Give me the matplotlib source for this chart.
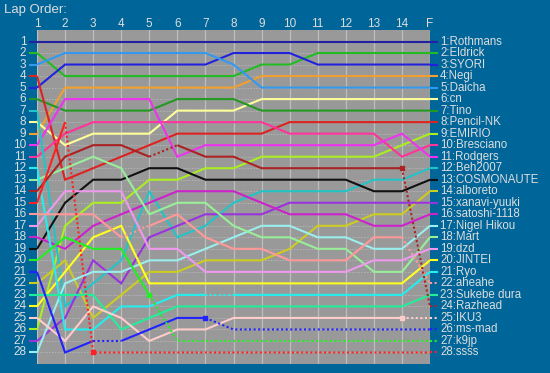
import matplotlib
matplotlib.use('Agg')
import matplotlib.pyplot as plt

lap_labels = ['1', '2', '3', '4', '5', '6', '7', '8', '9', '10', '11', '12', '13', '14', 'F']

drivers = ['Rothmans', 'Eldrick', 'SYORI', 'Negi', 'Daicha', 'cn', 'Tino', 'Pencil-NK',
           'EMIRIO', 'Bresciano', 'Rodgers', 'Beh2007', 'COSMONAUTE', 'alboreto',
           'xanavi-yuuki', 'satoshi-1118', 'Nigel Hikou', 'Mart', 'dzd', 'JINTEI', 'Ryo',
           'aheahe', 'Sukebe dura', 'Razhead', 'IKU3', 'ms-mad', 'k9jp', 'ssss']

# position of each driver at each lap column (1..14, F)
pos_rothmans   = [1, 1, 1, 1, 1, 1, 1, 1, 1, 1, 1, 1, 1, 1, 1]
pos_eldrick    = [2, 4, 4, 4, 4, 4, 4, 4, 3, 3, 2, 2, 2, 2, 2]
pos_syori      = [5, 3, 3, 3, 3, 3, 3, 2, 2, 2, 3, 3, 3, 3, 3]
pos_negi       = [9, 5, 5, 5, 5, 5, 5, 5, 4, 4, 4, 4, 4, 4, 4]
pos_daicha     = [3, 2, 2, 2, 2, 2, 2, 3, 5, 5, 5, 5, 5, 5, 5]
pos_cn         = [8, 10, 9, 9, 9, 7, 7, 7, 6, 6, 6, 6, 6, 6, 6]
pos_tino       = [6, 7, 7, 7, 7, 6, 6, 6, 7, 7, 7, 7, 7, 7, 7]
pos_pencil     = [4, 13, 12, 11, 10, 9, 9, 9, 9, 8, 8, 8, 8, 8, 8]
pos_emirio     = [26, 17, 15, 15, 13, 13, 12, 12, 11, 11, 11, 11, 11, 10, 9]
pos_bresciano  = [11, 9, 8, 8, 8, 8, 8, 8, 8, 9, 9, 9, 9, 11, 10]
pos_rodgers    = [10, 6, 6, 6, 6, 11, 10, 10, 10, 10, 10, 10, 10, 9, 11]
pos_beh        = [7, 24, 22, 20, 14, 18, 17, 15, 14, 14, 14, 14, 13, 13, 12]
pos_cosmonaute = [19, 15, 13, 13, 12, 12, 13, 13, 13, 13, 13, 13, 14, 14, 13]
pos_alboreto   = [22, 20, 25, 23, 21, 21, 20, 20, 20, 19, 17, 17, 16, 16, 14]
pos_xanavi     = [27, 25, 20, 22, 18, 17, 16, 16, 16, 15, 15, 15, 15, 15, 15]
pos_satoshi    = [18, 19, 17, 16, 15, 14, 14, 14, 15, 16, 16, 16, 17, 17, 16]
pos_nigel      = [28, 22, 21, 21, 20, 20, 19, 18, 17, 17, 18, 18, 19, 19, 17]
pos_mart       = [13, 12, 11, 12, 16, 15, 15, 17, 18, 18, 19, 19, 21, 21, 18]
pos_dzd        = [17, 14, 14, 14, 19, 19, 21, 21, 21, 21, 21, 21, 20, 20, 19]
pos_jintei     = [24, 21, 18, 17, 22, 22, 22, 22, 22, 22, 22, 22, 22, 22, 20]
pos_ryo        = [12, 26, 26, 24, 24, 23, 23, 23, 23, 23, 23, 23, 23, 23, 21]
pos_aheahe     = [16, 16, 16, 18, 17, 16, 18, 19, 19, 20, 20, 20, 18, 18, 22]
pos_sukebe     = [23, 23, 23, 26, 25, 24, 24, 24, 24, 24, 24, 24, 24, 24, 23]
pos_razhead    = [14, 11, 10, 10, 11, 10, 11, 11, 12, 12, 12, 12, 12, 12, 24]
pos_iku3       = [25, 27, 24, 25, 27, 26, 26, 25, 25, 25, 25, 25, 25, 25, 25]
pos_msmad      = [21, 28, 27, 27, 26, 25, 25, 26, 26, 26, 26, 26, 26, 26, 26]
pos_k9jp       = [20, 18, 19, 19, 23, 27, 27, 27, 27, 27, 27, 27, 27, 27, 27]
pos_ssss       = [15, 8, 28, 28, 28, 28, 28, 28, 28, 28, 28, 28, 28, 28, 28]

positions = [pos_rothmans, pos_eldrick, pos_syori, pos_negi, pos_daicha, pos_cn, pos_tino,
             pos_pencil, pos_emirio, pos_bresciano, pos_rodgers, pos_beh, pos_cosmonaute,
             pos_alboreto, pos_xanavi, pos_satoshi, pos_nigel, pos_mart, pos_dzd, pos_jintei,
             pos_ryo, pos_aheahe, pos_sukebe, pos_razhead, pos_iku3, pos_msmad, pos_k9jp,
             pos_ssss]

# segments (index i -> i+1) drawn dotted
dotted_segments = {
    'Razhead': [4, 13],
    'ssss': [1, 2, 3, 4, 5, 6, 7, 8, 9, 10, 11, 12, 13],
    'aheahe': [3, 13],
    'k9jp': [4, 5, 6, 7, 8, 9, 10, 11, 12, 13],
    'ms-mad': [2, 6, 7, 8, 9, 10, 11, 12, 13],
    'Ryo': [6],
    'IKU3': [13],
}
# lap column index of retirement / stop markers
marker_points = [('ssss', 2), ('ms-mad', 6), ('Razhead', 13), ('IKU3', 13), ('k9jp', 4)]

colors = ['#2222a0', '#22bb22', '#2222dd', '#f0a030', '#3399ee', '#ffff99', '#229922',
          '#dd2222', '#aaee22', '#ff3399', '#ee33ee', '#22c4c8', '#111111', '#cccc22',
          '#9933dd', '#cc22cc', '#99eeee', '#99ee99', '#ee99ee', '#ffff22', '#22eeee',
          '#ff9999', '#22ee99', '#aa2222', '#ffcccc', '#2222ff', '#22ee22', '#ff2222']

BG = '#006699'
TXT = '#dddddd'

fig = plt.figure(figsize=(5.5, 3.73), dpi=100, facecolor=BG)
ax = fig.add_axes([37 / 550, 1 - 364 / 373, (430 - 37) / 550, (364 - 30) / 373])
ax.set_facecolor('#999999')
n = len(lap_labels)
xs = list(range(1, n + 1))
ax.set_xlim(1, n)
ax.set_ylim(29, 0)
for s in ax.spines.values():
    s.set_visible(False)
ax.set_xticks([])
ax.set_yticks([])

for x in xs:
    ax.axvline(x, color='#bdbdbd', lw=0.9, zorder=1)
for r in range(1, 29):
    ax.axhline(r, color='#b4b4b4', lw=0.7, ls=(0, (1.5, 1.5)), zorder=1)

for name, p, c in zip(drivers, positions, colors):
    dots = dotted_segments.get(name, [])
    i = 0
    while i < n - 1:
        style = i in dots
        j = i
        while j < n - 1 and (j in dots) == style:
            j += 1
        ax.plot(xs[i:j + 1], p[i:j + 1], color=c, lw=1.5,
                ls=(0, (1, 1.2)) if style else '-', zorder=3,
                solid_joinstyle='miter', solid_capstyle='butt')
        i = j
    ax.plot([0.72, 1], [p[0], p[0]], color=c, lw=1.5, clip_on=False, zorder=3,
            solid_capstyle='butt')
    last_dotted = (n - 2) in dots
    ax.plot([n, n + 0.3], [p[-1], p[-1]], color=c, lw=1.5, clip_on=False, zorder=3,
            ls=(0, (1, 1.2)) if last_dotted else '-', solid_capstyle='butt')

for name, idx in marker_points:
    k = drivers.index(name)
    ax.plot(xs[idx], positions[k][idx], marker='s', ms=2.5, color=colors[k],
            zorder=4, clip_on=False)

for r in range(1, 29):
    ax.text(0.62, r, str(r), color=TXT, fontsize=8.5, ha='right', va='center',
            family='Liberation Sans', clip_on=False)

finish = sorted(zip([p[-1] for p in positions], drivers))
for r, name in finish:
    ax.text(n + 0.36, r, f'{r}:{name}', color=TXT, fontsize=8.3, ha='left', va='center',
            family='Liberation Sans', clip_on=False)

for x, lab in zip(xs, lap_labels):
    ax.text(x, -0.55, lab, color=TXT, fontsize=8.5, ha='center', va='center',
            family='Liberation Sans', clip_on=False)

fig.text(4 / 550, 1 - 10 / 373, 'Lap Order:', color=TXT, fontsize=9.5, ha='left',
         va='center', family='Liberation Sans')

fig.savefig('out.png', dpi=100, facecolor=BG)
